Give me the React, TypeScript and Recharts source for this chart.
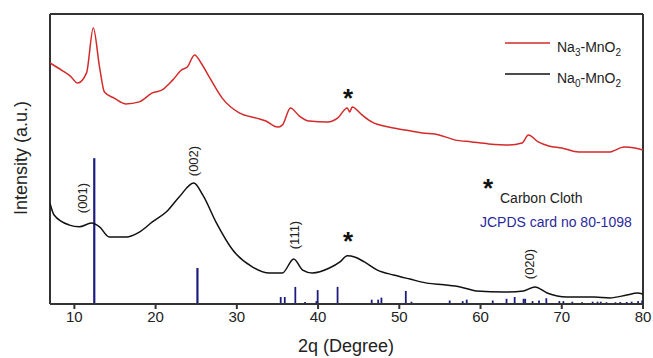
import { LineChart, Line, XAxis, YAxis, ReferenceLine } from "recharts";

// 2θ (deg) / intensity (a.u., 0-100 scale)
const na3Theta = [7, 8.5, 9.5, 10.4, 11.5, 12.33, 13.1, 13.7, 14.9, 16.3, 18, 19.6, 20.8, 22.1, 23.2, 23.9, 24.8, 25.6, 26.6, 28.2, 30.3, 32.4, 33.5, 35, 35.6, 36.6, 37.7, 38.9, 41.2, 42.4, 43.6, 43.9, 44.2, 45.4, 46.6, 48.7, 50.7, 52.8, 54.9, 56.8, 58.9, 61, 63.5, 65.1, 65.9, 67.1, 68.4, 70, 72.1, 74, 75.8, 77.7, 79, 80];
const na3Int = [83.1, 80.5, 78.6, 76.2, 79.7, 95.2, 81.7, 73.1, 71, 69, 69.7, 72.8, 73.8, 77.2, 80.7, 81.7, 85.9, 83.1, 78.3, 71, 65.9, 64.1, 63.2, 61, 61.7, 67.6, 64.8, 63.1, 62.8, 64.1, 67.6, 66.2, 67.9, 65.2, 62.8, 61, 60, 59, 58.3, 56.6, 55.9, 55.2, 54.8, 55.5, 58.3, 55.9, 54.5, 53.8, 52.4, 52.4, 52.4, 54.1, 53.8, 53.1];

const na0Theta = [7, 7.5, 9.4, 10.6, 12.1, 13.1, 14.3, 16.4, 18, 19.6, 21.3, 22.9, 24.7, 25.8, 27.5, 29.5, 31.9, 34, 35.6, 37, 38.1, 39.3, 41.4, 42.7, 43.6, 44.5, 45.7, 47.3, 49.3, 51.3, 53.4, 55.5, 57.5, 59.5, 62.9, 65.3, 66.7, 68.2, 70.6, 74, 75.9, 78, 79.3, 80];
const na0Int = [34.8, 30.7, 27.2, 26.6, 27.9, 26.6, 23.1, 23.1, 24.8, 28.3, 31.7, 36.9, 41.7, 37.6, 27.9, 18.6, 12.8, 10.7, 10.7, 15.5, 11.7, 10.7, 12.4, 14.5, 16.6, 16.2, 14.5, 11.7, 10, 8.6, 7.2, 6.6, 5.9, 4.5, 4.1, 4.5, 5.9, 3.8, 2.4, 2.4, 2.1, 3.1, 3.8, 3.4];

// JCPDS 80-1098 reference sticks
const refTheta = [12.45, 25.15, 35.4, 35.9, 37.2, 38.4, 39.8, 39.95, 42.4, 46.6, 47.4, 47.8, 50.8, 51.5, 56.2, 57.8, 58.3, 61.5, 63.2, 64.2, 65.3, 65.5, 66.4, 67.2, 68.1, 69.7, 70.2, 71.3, 72.5, 73.8, 74.4, 74.8, 75.5, 76.6, 77.2, 78, 78.6, 79.4, 79.9];
const refInt = [50.3, 12.4, 2.4, 2.4, 5.9, 0.7, 1, 4.8, 5.9, 1.5, 1.5, 2.2, 4.5, 0.8, 1.2, 1, 1.5, 1.2, 1.8, 2.4, 1.8, 1.8, 1, 1.2, 2, 1, 1, 0.8, 0.6, 0.8, 0.8, 0.8, 0.6, 0.6, 0.7, 0.7, 0.8, 1, 1.2];

const xTicks = [10, 20, 30, 40, 50, 60, 70, 80];

const na3Data = na3Theta.map((x, i) => ({ x, y: na3Int[i] }));
const na0Data = na0Theta.map((x, i) => ({ x, y: na0Int[i] }));

const FONT = "Liberation Sans, Arial, sans-serif";
const AXIS = "#333";

export default function App() {
  return (
    <div style={{ position: "absolute", left: 0, top: 0, width: 653, height: 358, background: "#fff", fontFamily: FONT }}>
      <LineChart width={653} height={358} data={na0Data} margin={{ top: 14, right: 10, left: 50, bottom: 24 }}>
        <XAxis
          dataKey="x"
          type="number"
          domain={[7, 80]}
          ticks={xTicks}
          allowDataOverflow
          height={30}
          tickSize={5}
          stroke={AXIS}
          strokeWidth={2}
          tick={{ fontSize: 15, fill: "#222", fontFamily: FONT }}
        />
        <YAxis type="number" domain={[0, 100]} hide />
        {/* plot frame */}
        <ReferenceLine x={7} stroke={AXIS} strokeWidth={2} />
        <ReferenceLine x={80} stroke={AXIS} strokeWidth={2} />
        <ReferenceLine y={100} stroke={AXIS} strokeWidth={2} />
        {refTheta.map((t, i) => (
          <ReferenceLine
            key={`ref-${i}`}
            segment={[{ x: t, y: 0 }, { x: t, y: refInt[i] }]}
            stroke="#1c1c80"
            strokeWidth={i < 2 ? 2.2 : 1.8}
          />
        ))}
        <Line data={na0Data} dataKey="y" type="monotone" stroke="#111" strokeWidth={1.5} dot={false} isAnimationActive={false} />
        <Line data={na3Data} dataKey="y" type="monotone" stroke="#d42a2a" strokeWidth={1.5} dot={false} isAnimationActive={false} />
      </LineChart>
      <svg width={653} height={358} style={{ position: "absolute", left: 0, top: 0, pointerEvents: "none" }} fontFamily={FONT}>
        <text x={22} y={158} transform="rotate(-90 22 158)" textAnchor="middle" dominantBaseline="middle" fontSize={18} fill="#222">
          Intensity (a.u.)
        </text>
        <text x={346} y={352} textAnchor="middle" fontSize={18} fill="#222">
          2q (Degree)
        </text>
        {/* legend */}
        <line x1={505} y1={43} x2={550} y2={43} stroke="#d42a2a" strokeWidth={1.5} />
        <text x={557} y={52} fontSize={14} fill="#222">
          Na<tspan fontSize={10} dy={4}>3</tspan>
          <tspan dy={-4}>-MnO</tspan>
          <tspan fontSize={10} dy={4}>2</tspan>
        </text>
        <line x1={505} y1={74} x2={550} y2={74} stroke="#111" strokeWidth={1.5} />
        <text x={557} y={83} fontSize={14} fill="#222">
          Na<tspan fontSize={10} dy={4}>0</tspan>
          <tspan dy={-4}>-MnO</tspan>
          <tspan fontSize={10} dy={4}>2</tspan>
        </text>
        {/* peak labels */}
        <text x={84} y={198} transform="rotate(-90 84 198)" textAnchor="middle" dominantBaseline="middle" fontSize={13} fill="#222">(001)</text>
        <text x={195} y={161} transform="rotate(-90 195 161)" textAnchor="middle" dominantBaseline="middle" fontSize={13} fill="#222">(002)</text>
        <text x={296} y={235} transform="rotate(-90 296 235)" textAnchor="middle" dominantBaseline="middle" fontSize={13} fill="#222">(111)</text>
        <text x={531} y={264} transform="rotate(-90 531 264)" textAnchor="middle" dominantBaseline="middle" fontSize={13} fill="#222">(020)</text>
        {/* carbon cloth markers */}
        <text x={348} y={107} textAnchor="middle" fontSize={26} fontWeight="bold" fill="#111">*</text>
        <text x={348} y={250} textAnchor="middle" fontSize={26} fontWeight="bold" fill="#111">*</text>
        <text x={488} y={197} textAnchor="middle" fontSize={26} fontWeight="bold" fill="#111">*</text>
        <text x={500} y={203} fontSize={14} fill="#222">Carbon Cloth</text>
        <text x={480} y={227} fontSize={14} fill="#2a2a9c">JCPDS card no 80-1098</text>
      </svg>
    </div>
  );
}
